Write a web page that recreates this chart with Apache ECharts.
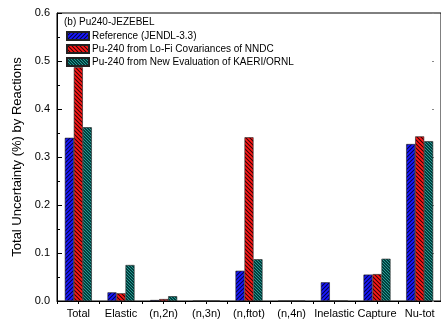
<!DOCTYPE html>
<html><head><meta charset="utf-8">
<script src="https://cdn.jsdelivr.net/npm/echarts@6/dist/echarts.min.js"></script>
<style>html,body{margin:0;padding:0;background:#fff}#c{width:441px;height:320px}</style>
</head><body><div id="c"></div>
<script>
const categories = ['Total','Elastic','(n,2n)','(n,3n)','(n,ftot)','(n,4n)','Inelastic','Capture','Nu-tot'];
const seriesNames = ['Reference (JENDL-3.3)','Pu-240 from Lo-Fi Covariances of NNDC','Pu-240 from New Evaluation of KAERI/ORNL'];
const refValues   = [0.340, 0.018, 0.002, 0, 0.063, 0, 0.039, 0.055, 0.327];
const lofiValues  = [0.487, 0.016, 0.004, 0, 0.341, 0, 0, 0.056, 0.343];
const kaeriValues = [0.362, 0.075, 0.010, 0, 0.087, 0, 0, 0.088, 0.333];
const yTicks = [0.0, 0.1, 0.2, 0.3, 0.4, 0.5, 0.6];
const title = '(b) Pu240-JEZEBEL';
const yName = 'Total Uncertainty (%) by Reactions';

function hatch(bg, line, dir){
  const c=document.createElement('canvas'); c.width=4; c.height=4;
  const g=c.getContext('2d'); g.fillStyle=bg; g.fillRect(0,0,4,4);
  g.strokeStyle=line; g.lineWidth=1.1;
  g.beginPath();
  if(dir>0){ g.moveTo(-1,5);g.lineTo(5,-1); g.moveTo(-1,1);g.lineTo(1,-1); g.moveTo(3,5);g.lineTo(5,3);}
  else { g.moveTo(-1,-1);g.lineTo(5,5); g.moveTo(3,-1);g.lineTo(5,1); g.moveTo(-1,3);g.lineTo(1,5);}
  g.stroke(); return c;
}
function checker(){
  const c=document.createElement('canvas'); c.width=3; c.height=3;
  const g=c.getContext('2d'); g.fillStyle='#003f40'; g.fillRect(0,0,3,3);
  g.fillStyle='#2a9c90'; g.fillRect(0,0,1,1); g.fillRect(1,1,1,1); g.fillRect(2,2,1,1);
  return c;
}
const pats=[
  {image:hatch('#1a1aff','#00004a',1),repeat:'repeat'},
  {image:hatch('#ff1a1a','#3a0000',-1),repeat:'repeat'},
  {image:checker(),repeat:'repeat'}
];
const data=[refValues,lofiValues,kaeriValues];
const chart=echarts.init(document.getElementById('c'),null,{renderer:'canvas'});
const font='Liberation Sans, Arial, sans-serif';
chart.setOption({
  animation:false,
  textStyle:{fontFamily:font},
  grid:{left:57,top:13,width:391,bottom:19,show:true,borderColor:'#000',borderWidth:1,backgroundColor:'transparent'},
  graphic:[{type:'text',left:64,top:17,style:{text:title,font:'10px '+font,fill:'#000'}}],
  legend:{left:66,top:31,padding:0,orient:'vertical',itemWidth:22,itemHeight:8,itemGap:3,icon:'rect',
    textStyle:{fontSize:10,fontFamily:font,color:'#000',lineHeight:8,padding:[0,0,0,-2]},
    data:seriesNames},
  xAxis:[{type:'category',data:categories,
    axisLine:{lineStyle:{color:'#000',width:1}},
    axisTick:{inside:true,alignWithLabel:true,length:4,lineStyle:{color:'#000'}},
    axisLabel:{color:'#000',fontSize:11,fontFamily:font,margin:7,interval:0}},
   {type:'value',position:'top',min:0,max:18,interval:1,
    axisLine:{show:false},splitLine:{show:false},axisLabel:{show:false},
    axisTick:{show:true,inside:true,length:3,lineStyle:{color:'#000'}}}],
  yAxis:[{type:'value',min:0,max:0.6,interval:0.1,name:yName,nameLocation:'middle',nameGap:31,
    nameTextStyle:{fontSize:13,fontFamily:font,color:'#000'},
    splitLine:{show:false},
    axisLine:{show:true,lineStyle:{color:'#000'}},
    axisTick:{inside:true,length:5,lineStyle:{color:'#000'}},
    minorTick:{show:true,splitNumber:2,length:3,lineStyle:{color:'#000'}},
    axisLabel:{color:'#000',fontSize:11,fontFamily:font,formatter:v=>v.toFixed(1),margin:7}},
   {type:'value',position:'right',offset:-7,min:0,max:0.6,interval:0.1,
    splitLine:{show:false},axisLine:{show:false},axisLabel:{show:false},
    axisTick:{show:true,inside:true,length:2,lineStyle:{color:'#888'}}}],
  series:data.map((d,i)=>({name:seriesNames[i],type:'bar',data:d,barWidth:9,barGap:'0%',
    xAxisIndex:0,yAxisIndex:0,
    itemStyle:{color:pats[i],borderColor:'#222',borderWidth:0.6}}))
});
</script></body></html>
